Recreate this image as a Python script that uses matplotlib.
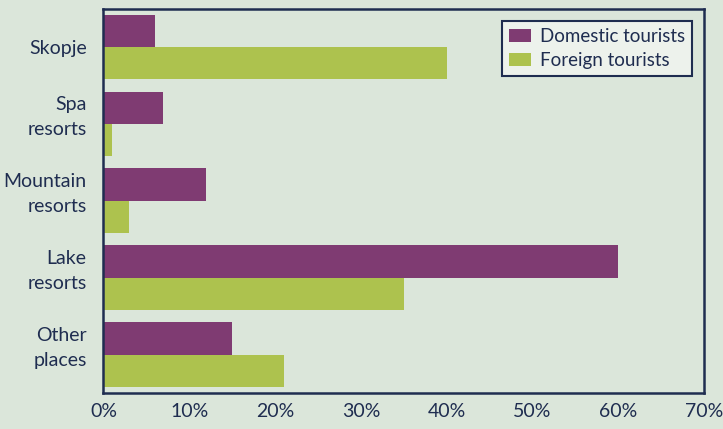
import matplotlib
matplotlib.use("Agg")
import matplotlib.pyplot as plt
import matplotlib.transforms as mtransforms
import numpy as np
from matplotlib.ticker import PercentFormatter

categories = ["Skopje", "Spa\nresorts", "Mountain\nresorts", "Lake\nresorts", "Other\nplaces"]
domestic = [6, 7, 12, 60, 15]
foreign = [40, 1, 3, 35, 21]
xticks = [0, 10, 20, 30, 40, 50, 60, 70]

bg = "#dbe6da"
navy = "#1f2d50"
purple = "#7f3b72"
green = "#adc24e"

plt.rcParams['font.family'] = ['Lato', 'DejaVu Sans']

fig = plt.figure(figsize=(7.23, 4.29), dpi=100, facecolor=bg)
ax = fig.add_axes([0.143, 0.084, 0.831, 0.896])
ax.set_facecolor(bg)

y = np.arange(len(categories))
h = 0.42
ax.barh(y - h/2, domestic, height=h, color=purple, label="Domestic tourists")
ax.barh(y + h/2, foreign, height=h, color=green, label="Foreign tourists")

ax.set_ylim(len(categories) - 0.5, -0.5)
ax.set_xlim(0, 70)
ax.set_xticks(xticks)
ax.xaxis.set_major_formatter(PercentFormatter(decimals=0))
ax.set_yticks(y)
ax.set_yticklabels(categories, fontsize=14, color=navy, linespacing=1.6)
ax.tick_params(axis='x', labelsize=14, labelcolor=navy, length=0, pad=7)
ax.tick_params(axis='y', length=0, pad=12)

shift = mtransforms.ScaledTranslation(0, 9 / 72, fig.dpi_scale_trans)
for lbl in ax.get_yticklabels():
    if "\n" in lbl.get_text():
        lbl.set_transform(lbl.get_transform() + shift)

for s in ax.spines.values():
    s.set_color(navy)
    s.set_linewidth(1.8)

leg = ax.legend(loc='upper right', bbox_to_anchor=(0.98, 0.9675), borderaxespad=0,
                fontsize=13.5,
                frameon=True, fancybox=False, facecolor="#edf2ec", edgecolor=navy,
                handlelength=1.2, handleheight=0.7, labelcolor=navy,
                borderpad=0.35, labelspacing=0.4, handletextpad=0.5)
leg.get_frame().set_linewidth(1.5)
leg.get_frame().set_alpha(1)

fig.savefig("out.png", dpi=100, facecolor=bg)
